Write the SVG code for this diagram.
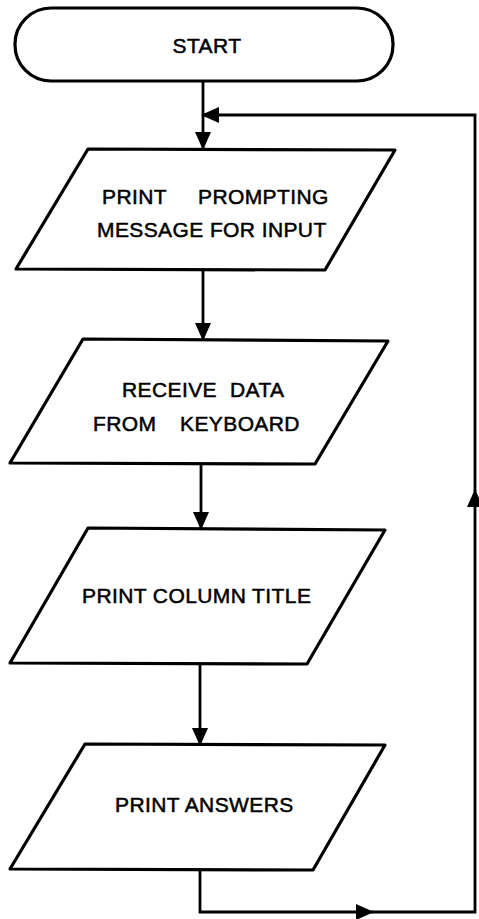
<svg xmlns="http://www.w3.org/2000/svg" width="479" height="919" viewBox="0 0 479 919">
<style>
.shape{fill:#fff;stroke:#000;stroke-width:3.2;stroke-linejoin:round}
.line{fill:none;stroke:#000;stroke-width:2.8}
text{font-family:"Liberation Sans",Arial,sans-serif;font-size:21px;letter-spacing:0.4px;fill:#000;stroke:#000;stroke-width:0.5}
</style>
<defs>
<marker id="arr" viewBox="0 0 18 16" refX="17" refY="8" markerWidth="18" markerHeight="16" markerUnits="userSpaceOnUse" orient="auto">
<path d="M0,0 L18,8 L0,16 z" fill="#000"/>
</marker>
</defs>
<rect width="479" height="919" fill="#fff"/>
<g id="connectors">
<path class="line" d="M203,81 V149" marker-end="url(#arr)"/>
<path class="line" d="M203,270 V340" marker-end="url(#arr)"/>
<path class="line" d="M201,464 V529" marker-end="url(#arr)"/>
<path class="line" d="M200,664 V745" marker-end="url(#arr)"/>
<path class="line" d="M200,870 V912 H373" marker-end="url(#arr)"/>
<path class="line" d="M372,912 H475 V490" marker-end="url(#arr)"/>
<path class="line" d="M475,491 V115 H202" marker-end="url(#arr)"/>
</g>
<g id="start">
<rect class="shape" x="15" y="8" width="378" height="73" rx="36" ry="36"/>
<text x="207" y="53" text-anchor="middle">START</text>
</g>
<g id="prompt">
<polygon class="shape" points="88,149 395,150 325,270 16,269"/>
<text y="204"><tspan x="102">PRINT </tspan><tspan x="198">PROMPTING</tspan></text>
<text x="97" y="237">MESSAGE FOR INPUT</text>
</g>
<g id="receive">
<polygon class="shape" points="83,339 388,341 315,464 10,463"/>
<text y="397"><tspan x="122">RECEIVE </tspan><tspan x="230">DATA</tspan></text>
<text y="431"><tspan x="93">FROM </tspan><tspan x="180">KEYBOARD</tspan></text>
</g>
<g id="column">
<polygon class="shape" points="88,528 385,530 307,664 10,663"/>
<text x="82" y="603">PRINT COLUMN TITLE</text>
</g>
<g id="answers">
<polygon class="shape" points="85,744 385,745 313,870 10,869"/>
<text x="115" y="812">PRINT ANSWERS</text>
</g>
</svg>
